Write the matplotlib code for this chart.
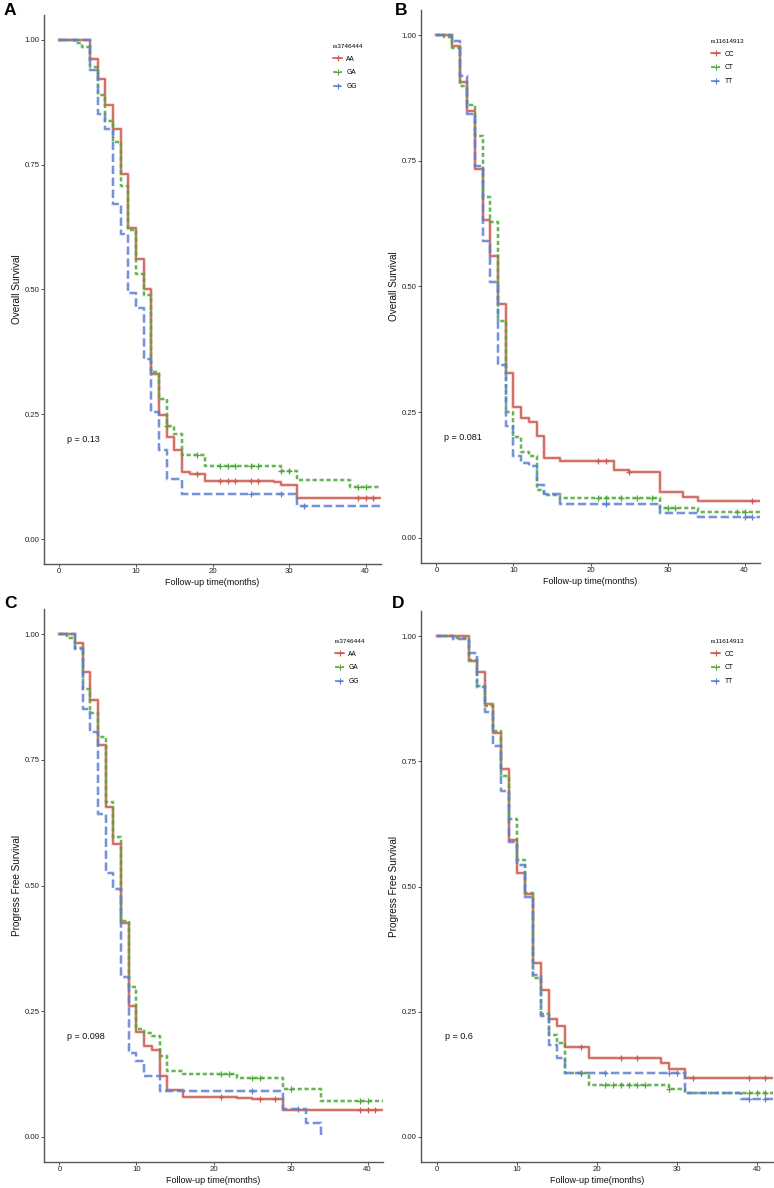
import matplotlib
matplotlib.use('Agg')
import matplotlib.pyplot as plt
from matplotlib.lines import Line2D
import matplotlib.patheffects as pe
import numpy as np

# ---------------- data ----------------
# Panel A: Overall survival by rs3746444
A_AA_t = [0, 4, 5, 6, 7, 8, 9, 10, 11, 12, 13, 14, 15, 16, 17, 19, 28, 29, 31, 42]
A_AA_s = [1.0, 0.962, 0.921, 0.870, 0.821, 0.731, 0.623, 0.561, 0.501, 0.330, 0.249, 0.204, 0.179, 0.135, 0.130, 0.117, 0.114, 0.109, 0.083, 0.083]
A_AA_c = [18, 21, 22, 23, 25, 26, 39, 40, 41]
A_GA_t = [0, 2, 3, 4, 5, 6, 7, 8, 9, 10, 11, 12, 13, 14, 15, 16, 19, 29, 31, 38, 42]
A_GA_s = [1.0, 0.993, 0.985, 0.945, 0.890, 0.837, 0.795, 0.707, 0.620, 0.531, 0.489, 0.334, 0.281, 0.227, 0.211, 0.169, 0.146, 0.136, 0.119, 0.104, 0.104]
A_GA_c = [14, 18, 21, 22, 23, 25, 26, 29, 30, 39, 40]
A_GG_t = [0, 4, 5, 6, 7, 8, 9, 10, 11, 12, 13, 14, 16, 31, 42]
A_GG_s = [1.0, 0.940, 0.851, 0.821, 0.672, 0.612, 0.492, 0.463, 0.360, 0.254, 0.179, 0.120, 0.090, 0.067, 0.067]
A_GG_c = [25, 29, 32]

# Panel B: Overall survival by rs11614913
B_CC_t = [0, 2, 3, 4, 5, 6, 7, 8, 9, 10, 11, 12, 13, 14, 16, 23, 25, 29, 32, 34, 42]
B_CC_s = [1.0, 0.978, 0.907, 0.849, 0.733, 0.632, 0.561, 0.466, 0.328, 0.261, 0.239, 0.231, 0.202, 0.158, 0.152, 0.135, 0.131, 0.092, 0.081, 0.073, 0.073]
B_CC_c = [21, 22, 25, 41]
B_CT_t = [0, 1, 2, 3, 4, 5, 6, 7, 8, 9, 10, 11, 12, 13, 14, 16, 29, 34, 42]
B_CT_s = [1.0, 0.997, 0.974, 0.899, 0.862, 0.800, 0.679, 0.628, 0.431, 0.250, 0.201, 0.171, 0.163, 0.095, 0.086, 0.080, 0.059, 0.051, 0.051]
B_CT_c = [21, 22, 24, 26, 28, 30, 31, 39, 40]
B_TT_t = [0, 2, 3, 4, 5, 6, 7, 8, 9, 10, 11, 12, 13, 14, 16, 29, 34, 42]
B_TT_s = [1.0, 0.989, 0.918, 0.844, 0.740, 0.590, 0.508, 0.343, 0.223, 0.163, 0.148, 0.142, 0.106, 0.088, 0.067, 0.050, 0.041, 0.041]
B_TT_c = [22, 40, 41]

# Panel C: Progress free survival by rs3746444
C_AA_t = [0, 2, 3, 4, 5, 6, 7, 8, 9, 10, 11, 12, 13, 14, 16, 23, 25, 29, 42]
C_AA_s = [1.0, 0.983, 0.925, 0.868, 0.780, 0.657, 0.583, 0.425, 0.261, 0.208, 0.180, 0.172, 0.122, 0.094, 0.080, 0.077, 0.075, 0.054, 0.054]
C_AA_c = [21, 26, 28, 39, 40, 41]
C_GA_t = [0, 1, 2, 3, 4, 5, 6, 7, 8, 9, 10, 11, 12, 13, 14, 16, 23, 29, 34, 42]
C_GA_s = [1.0, 0.993, 0.972, 0.891, 0.843, 0.795, 0.667, 0.597, 0.430, 0.299, 0.215, 0.207, 0.201, 0.161, 0.131, 0.126, 0.117, 0.095, 0.072, 0.072]
C_GA_c = [21, 22, 25, 26, 30, 39, 40]
C_GG_t = [0, 2, 3, 4, 5, 6, 7, 8, 9, 10, 11, 13, 29, 32, 34]
C_GG_s = [1.0, 0.970, 0.851, 0.805, 0.643, 0.524, 0.494, 0.317, 0.166, 0.151, 0.121, 0.091, 0.055, 0.027, 0.0]
C_GG_c = [25, 31]

# Panel D: Progress free survival by rs11614913
D_CC_t = [0, 4, 5, 6, 7, 8, 9, 10, 11, 12, 13, 14, 15, 16, 19, 28, 29, 31, 42]
D_CC_s = [1.0, 0.950, 0.929, 0.864, 0.806, 0.735, 0.593, 0.527, 0.485, 0.348, 0.293, 0.236, 0.221, 0.179, 0.158, 0.148, 0.135, 0.117, 0.117]
D_CC_c = [18, 23, 25, 32, 39, 41]
D_CT_t = [0, 2, 4, 5, 6, 7, 8, 9, 10, 11, 12, 13, 14, 15, 16, 19, 29, 31, 42]
D_CT_s = [1.0, 0.997, 0.952, 0.901, 0.861, 0.811, 0.720, 0.634, 0.553, 0.487, 0.317, 0.246, 0.204, 0.187, 0.128, 0.104, 0.095, 0.087, 0.087]
D_CT_c = [18, 21, 22, 23, 24, 25, 26, 29, 39, 40, 41]
D_TT_t = [0, 2, 4, 5, 6, 7, 8, 9, 10, 11, 12, 13, 14, 15, 16, 31, 38, 42]
D_TT_s = [1.0, 0.995, 0.967, 0.899, 0.849, 0.781, 0.690, 0.589, 0.542, 0.480, 0.324, 0.241, 0.184, 0.157, 0.127, 0.087, 0.076, 0.076]
D_TT_c = [18, 21, 29, 30, 39, 41]

x_ticks = [0, 10, 20, 30, 40]
y_ticks = [0.0, 0.25, 0.50, 0.75, 1.00]
y_tick_labels = ['0.00', '0.25', '0.50', '0.75', '1.00']
x_title = 'Follow-up time(months)'

panels = [
    dict(letter='A', ylab='Overall Survival', snp='rs3746444', p='p = 0.13',
         groups=['AA', 'GA', 'GG'],
         series=[(A_AA_t, A_AA_s, A_AA_c), (A_GA_t, A_GA_s, A_GA_c), (A_GG_t, A_GG_s, A_GG_c)]),
    dict(letter='B', ylab='Overall Survival', snp='rs11614913', p='p = 0.081',
         groups=['CC', 'CT', 'TT'],
         series=[(B_CC_t, B_CC_s, B_CC_c), (B_CT_t, B_CT_s, B_CT_c), (B_TT_t, B_TT_s, B_TT_c)]),
    dict(letter='C', ylab='Progress Free Survival', snp='rs3746444', p='p = 0.098',
         groups=['AA', 'GA', 'GG'],
         series=[(C_AA_t, C_AA_s, C_AA_c), (C_GA_t, C_GA_s, C_GA_c), (C_GG_t, C_GG_s, C_GG_c)]),
    dict(letter='D', ylab='Progress Free Survival', snp='rs11614913', p='p = 0.6',
         groups=['CC', 'CT', 'TT'],
         series=[(D_CC_t, D_CC_s, D_CC_c), (D_CT_t, D_CT_s, D_CT_c), (D_TT_t, D_TT_s, D_TT_c)]),
]

# ---------------- styling / layout ----------------
W, H = 774, 1188
REG = ['Liberation Sans', 'DejaVu Sans']
plt.rcParams['font.family'] = REG

colors = ['#CC5A4E', '#4EA93A', '#5F7FD3']
styles = ['-', (0, (2.6, 1.7)), (0, (5.2, 2.3))]
LW = 1.15

# axes rectangles in pixels: left, top, right, bottom
rects = [(44, 15, 381, 564), (421, 10, 760, 563), (44, 609, 383, 1162), (421, 611, 773, 1162)]
legend_pos = [(333, 44), (711, 39), (335, 639), (711, 639)]
letter_pos = [(4, 3), (395, 3), (4, 596), (392, 596)]

fig = plt.figure(figsize=(W / 100, H / 100), dpi=100)

SPINE = '#555555'

for pnl, (l, t, r, b), lpos, lt in zip(panels, rects, legend_pos, letter_pos):
    ax = fig.add_axes([l / W, 1 - b / H, (r - l) / W, (b - t) / H])
    handles = []
    for (tt, ss, cc), col, ls, g in zip(pnl['series'], colors, styles, pnl['groups']):
        tt = np.asarray(tt, float)
        ss = np.asarray(ss, float)
        ax.step(tt, ss, where='post', color=col, lw=LW, linestyle=ls,
                path_effects=[pe.Stroke(linewidth=2.8, foreground=col, alpha=0.25), pe.Normal()],
                zorder=3)
        cc = np.asarray(cc, float)
        idx = np.searchsorted(tt, cc, side='right') - 1
        ax.plot(cc, ss[idx], linestyle='none', marker='+', color=col, markersize=4.5,
                markeredgewidth=0.9, zorder=4)
        handles.append(Line2D([0], [0], color=col, lw=LW, linestyle=ls, marker='+',
                              markersize=4, markeredgewidth=0.8))
    ax.set_xlim(-2, 42)
    ax.set_ylim(-0.05, 1.05)
    ax.set_xticks(x_ticks)
    ax.set_yticks(y_ticks)
    ax.set_yticklabels(y_tick_labels)
    for s in ['top', 'right']:
        ax.spines[s].set_visible(False)
    for s in ['left', 'bottom']:
        ax.spines[s].set_color(SPINE)
        ax.spines[s].set_linewidth(1.0)
    ax.tick_params(axis='both', length=2.0, width=0.6, color='#333333', pad=1.2,
                   labelsize=5.6, labelcolor='#222222')
    ax.set_xlabel(x_title, fontsize=6.5, labelpad=1.5, color='#111111')
    ax.set_ylabel(pnl['ylab'], fontsize=7.2, labelpad=1.5, color='#111111')
    ax.text(1, 0.2, pnl['p'], ha='left', va='center', fontsize=6.5, color='#111111')

    leg = ax.legend(handles, pnl['groups'], title=pnl['snp'], loc='upper left',
                    bbox_to_anchor=(lpos[0] / W, 1 - lpos[1] / H), bbox_transform=fig.transFigure,
                    frameon=False, fontsize=4.8, title_fontsize=4.6, handlelength=1.4,
                    handletextpad=0.6, labelspacing=1.0, borderpad=0, borderaxespad=0,
                    numpoints=1, alignment='left')

    fig.text(lt[0] / W, 1 - lt[1] / H, pnl['letter'], ha='left', va='top',
             fontsize=12.5, fontweight='bold')

fig.savefig('out.png', dpi=100)
